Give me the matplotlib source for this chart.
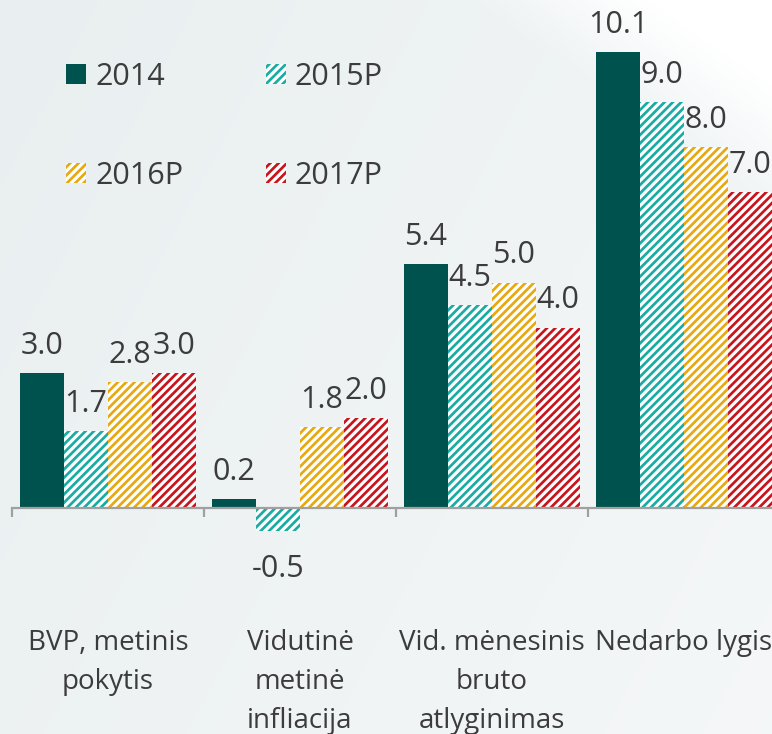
import numpy as np
import matplotlib
matplotlib.use("Agg")
import matplotlib.pyplot as plt
from matplotlib.patches import Patch
from matplotlib.transforms import blended_transform_factory

plt.rcParams['font.family'] = ['Open Sans', 'DejaVu Sans']
plt.rcParams['hatch.linewidth'] = 1.95

categories = ["BVP, metinis\npokytis", "Vidutinė\nmetinė\ninfliacija",
              "Vid. mėnesinis\nbruto\natlyginimas", "Nedarbo lygis"]
series_names = ["2014", "2015P", "2016P", "2017P"]
v2014 = [3.0, 0.2, 5.4, 10.1]
v2015 = [1.7, -0.5, 4.5, 9.0]
v2016 = [2.8, 1.8, 5.0, 8.0]
v2017 = [3.0, 2.0, 4.0, 7.0]
values = [v2014, v2015, v2016, v2017]

colors = ["#00524f", "#1aaba3", "#e6a912", "#c8141c"]
hatches = [None, "////", "////", "////"]
text_color = "#3c3c3c"

W, H = 772, 734
fig = plt.figure(figsize=(W / 100, H / 100), dpi=100)

# soft background wash
bg = fig.add_axes([0, 0, 1, 1], zorder=-5)
yy, xx = np.mgrid[0:H, 0:W]
base = np.array([233, 239, 240]) / 255.0
light = np.array([246, 248, 249]) / 255.0
t = np.clip(xx / W * 0.6 + yy / H * 0.3, 0, 1)[..., None]
img = base * (1 - t) + light * t
d = (xx - 470) * 0.68 - yy  # diagonal highlight toward the top right
hl = np.clip(d / 120.0, 0, 1)[..., None]
img = img * (1 - hl) + np.array([1.0, 1.0, 1.0]) * hl
bg.imshow(img, aspect='auto', extent=[0, 1, 0, 1])
bg.axis('off')

px_per_unit = 45.1
zero_px = 508
ax = fig.add_axes([12 / W, 0, 768 / W, 1])
ax.set_xlim(-0.5, 3.5)
ax.set_ylim(-(H - zero_px) / px_per_unit, zero_px / px_per_unit)
ax.patch.set_alpha(0)

bar_w = 44 / 192
x = np.arange(len(categories))
for i, (vals, col, h) in enumerate(zip(values, colors, hatches)):
    xs = x + (i - 1.5) * bar_w
    if h is None:
        ax.bar(xs, vals, width=bar_w, color=col, linewidth=0, zorder=2)
    else:
        ax.bar(xs, vals, width=bar_w, facecolor="white", edgecolor=col,
               hatch=h, linewidth=0, zorder=2)
    for xi, v in zip(xs, vals):
        if v >= 0:
            ax.text(xi, v + 0.27, f"{v:.1f}", ha='center', va='bottom',
                    fontsize=22, color=text_color)
        else:
            ax.text(xi, v - 0.52, f"{v:.1f}", ha='center', va='top',
                    fontsize=22, color=text_color)

# axis line with boundary ticks
for s in ["top", "right", "left"]:
    ax.spines[s].set_visible(False)
ax.spines["bottom"].set_position(("data", 0))
ax.spines["bottom"].set_color("#a0a0a0")
ax.spines["bottom"].set_linewidth(1.6)
ax.spines["bottom"].set_zorder(3)
ax.set_xticks(np.arange(-0.5, 4.0, 1.0))
ax.set_xticklabels([])
ax.tick_params(axis='x', direction='out', length=6.5, width=1.6, color="#a0a0a0")
ax.set_yticks([])

tr = blended_transform_factory(ax.transData, ax.transAxes)
for xi, lab in zip(x, categories):
    ax.text(xi, 1 - 629 / H, lab, transform=tr, ha='center', va='top',
            fontsize=20, color=text_color, linespacing=1.52)

handles = []
for name, col, h in zip(series_names, colors, hatches):
    if h is None:
        handles.append(Patch(facecolor=col, linewidth=0, label=name))
    else:
        handles.append(Patch(facecolor="white", edgecolor=col, hatch=h,
                             linewidth=0, label=name))
# two rows: 2014 / 2015P on top, 2016P / 2017P below
order = [0, 2, 1, 3]
leg = fig.legend(handles=[handles[k] for k in order], ncol=2, loc='upper left',
                 bbox_to_anchor=(66 / W, 1 - 62 / H), frameon=False,
                 fontsize=22, handlelength=0.65, handleheight=0.65,
                 handletextpad=0.3, columnspacing=2.7, labelspacing=2.25,
                 borderpad=0, borderaxespad=0)
for t_ in leg.get_texts():
    t_.set_color(text_color)

fig.savefig("out.png", dpi=100)
